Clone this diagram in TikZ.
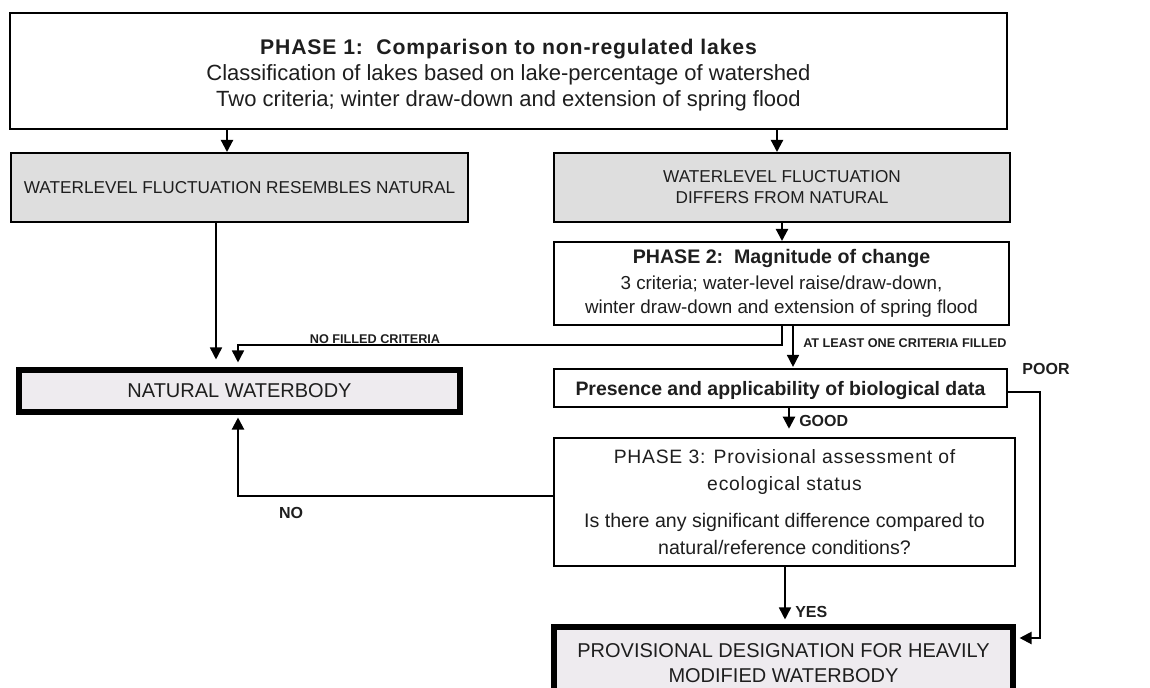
\documentclass[tikz,border=0pt]{standalone}
\usepackage{fontspec}
\setmainfont{Liberation Sans}
\newfontfamily\trackedfont{Liberation Sans}[LetterSpace=4]
\usetikzlibrary{arrows.meta}
\newcommand\fsz[2]{\fontsize{#1}{#2}\selectfont}
\definecolor{ink}{HTML}{1E1E1E}
\definecolor{greybox}{HTML}{DEDEDE}
\definecolor{endbox}{HTML}{EEEBEF}

\tikzset{
  sz/.style 2 args={minimum width=#1*0.75pt, minimum height=#2*0.75pt},
  frame/.style={draw=black, fill=white, inner sep=0pt, align=center, text=ink},
  greyframe/.style={frame, fill=greybox, line width=1.5pt},
  endframe/.style={frame, fill=endbox, line width=3.8pt},
  tip/.style={-{Triangle[width=9pt,length=9pt]}},
  conn/.style={tip, line width=1.2pt, draw=black},
  heavyconn/.style={tip, line width=1.6pt, draw=black},
  smalllabel/.style={inner sep=0pt, text=ink, font=\bfseries\fsz{9.5pt}{11pt}},
  branchlabel/.style={inner sep=0pt, text=ink, font=\bfseries\fsz{12pt}{14pt}},
}

\begin{document}
\begin{tikzpicture}[x=0.75pt, y=-0.75pt]
\useasboundingbox (0,0) rectangle (1150,688);

% ---- boxes ----
\node[frame, sz={997}{116}, line width=1.9pt, font=\fsz{16.5pt}{19.5pt}] (p1) at (508.5,71)
  {\raisebox{-3.4pt}[\height][\depth]{\begin{tabular}{@{}c@{}}
   {\trackedfont\bfseries\fsz{15.9pt}{19.5pt}PHASE 1:\ \ Comparison to non-regulated lakes}\\
   Classification of lakes based on lake-percentage of watershed\\
   Two criteria; winter draw-down and extension of spring flood
   \end{tabular}}};

\node[greyframe, sz={457}{69}, font=\fsz{12.9pt}{15.8pt}] (gL) at (239.5,187.5)
  {WATERLEVEL FLUCTUATION RESEMBLES NATURAL};

\node[greyframe, sz={456}{69}, font=\fsz{12.9pt}{15.8pt}] (gR) at (782,187.5)
  {WATERLEVEL FLUCTUATION\\DIFFERS FROM NATURAL};

\node[frame, sz={455}{83}, line width=1.5pt, font=\fsz{14.1pt}{17.8pt}] (p2) at (781.5,283.5)
  {{\bfseries\fsz{14.7pt}{17.8pt}PHASE 2:\ \ Magnitude of change}\\[1.5pt]
   3 criteria; water-level raise/draw-down,\\
   winter draw-down and extension of spring flood};

\node[endframe, sz={441}{42}, font=\fsz{15pt}{18pt}] (nat) at (239.5,391)
  {NATURAL WATERBODY};

\node[frame, sz={453}{38}, line width=1.6pt, font=\bfseries\fsz{14.6pt}{17pt}] (pres) at (780.5,388)
  {\raisebox{-2.2pt}[\height][\depth]{Presence and applicability of biological data}};

\node[frame, sz={461}{128}, line width=1.9pt, font=\fsz{14.7pt}{19.9pt}] (p3) at (784.5,502)
  {{\trackedfont\fsz{14.5pt}{19.9pt}PHASE 3: Provisional assessment of}\\
   {\trackedfont\fsz{14.5pt}{19.9pt}ecological status}\\[8pt]
   Is there any significant difference compared to\\
   natural/reference conditions?};

\node[endframe, sz={459}{72}, font=\fsz{15pt}{18.75pt}] (fin) at (783.5,663)
  {PROVISIONAL DESIGNATION FOR HEAVILY\\MODIFIED WATERBODY};

% ---- routing points ----
\coordinate (xA) at (227,0);
\coordinate (xB) at (777,0);
\coordinate (xC) at (782,0);
\coordinate (xD) at (216,0);
\coordinate (xE) at (793,0);
\coordinate (xF) at (789,0);
\coordinate (xG) at (785,0);
\coordinate (nf) at (238,345);
\coordinate (noTurn) at (238,496);
\coordinate (yNo) at (0,496);
\coordinate (yPoorA) at (0,392);
\coordinate (poorA) at (1040,392);
\coordinate (poorB) at (1040,638);

% ---- connectors ----
\draw[heavyconn] (p1.south -| xA) -- (gL.north -| xA);
\draw[heavyconn] (p1.south -| xB) -- (gR.north -| xB);
\draw[heavyconn] (gR.south -| xC) -- (p2.north -| xC);
\draw[conn, shorten >=6pt] (gL.south -| xD) -- (nat.north -| xD);
\draw[conn, shorten >=3.75pt] (p2.south -| xC) |- (nf) -- (nat.north -| nf);
\draw[conn, shorten >=0.75pt] (p2.south -| xE) -- (pres.north -| xE);
\draw[heavyconn, shorten >=6pt] (pres.south -| xF) -- (p3.north -| xF);
\draw[heavyconn, shorten >=3pt] (pres.east |- yPoorA) -- (poorA) -- (poorB) -- (fin.east |- poorB);
\draw[heavyconn, shorten >=2.25pt] (p3.west |- yNo) -- (noTurn) -- (nat.south -| noTurn);
\draw[conn, shorten >=3.75pt] (p3.south -| xG) -- (fin.north -| xG);

% ---- connector labels ----
\node[smalllabel, anchor=south] (lNF) at (375,344) {NO FILLED CRITERIA};
\node[smalllabel, anchor=west] (lAL) at (803,343) {AT LEAST ONE CRITERIA FILLED};
\node[branchlabel] (lPoor) at (1046,369) {POOR};
\node[branchlabel, anchor=west] (lGood) at (799,421) {GOOD};
\node[branchlabel] (lNo) at (291,513) {NO};
\node[branchlabel, anchor=west] (lYes) at (795,612) {YES};
\end{tikzpicture}
\end{document}
